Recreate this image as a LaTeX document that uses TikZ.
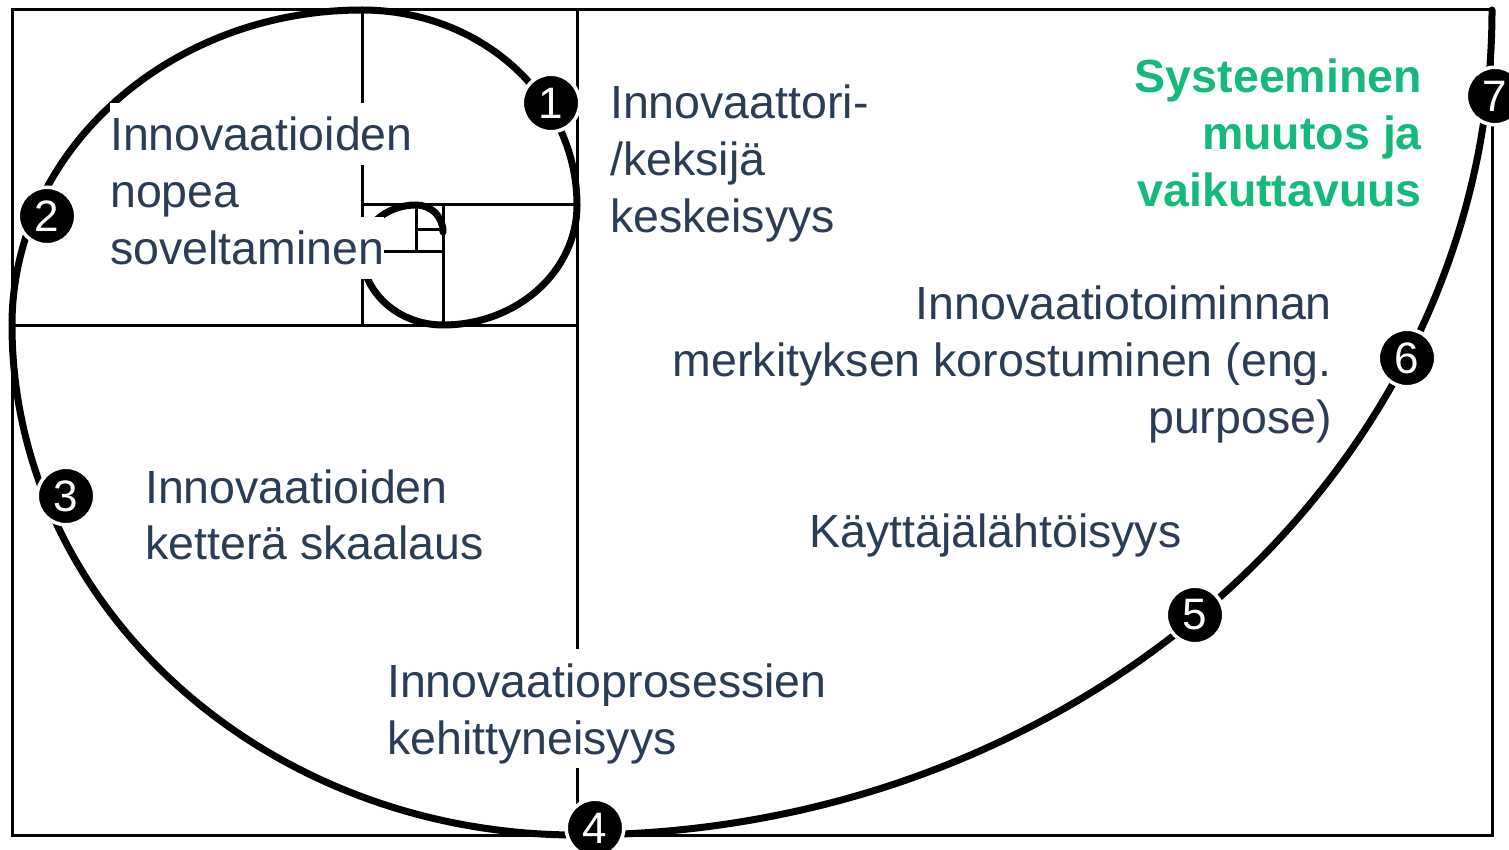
\documentclass[tikz,border=0pt]{standalone}
\usepackage{fontspec}
\setmainfont{Liberation Sans}
\definecolor{navy}{RGB}{42,61,84}
\definecolor{grn}{RGB}{19,186,124}
\begin{document}
\begin{tikzpicture}[x=1pt,y=-1pt,
  gridline/.style={line width=3pt},
  spiral/.style={line width=7pt, line cap=round},
  lbl/.style={font=\fontsize{46.5}{56}\selectfont, text=navy, fill=white, inner sep=0pt, text height=48pt, text depth=14pt},
  glbl/.style={font=\fontsize{46.5}{56}\selectfont\bfseries, text=grn, inner sep=0pt},
  num/.style={circle, fill=black, draw=white, line width=3.5pt, minimum size=57.5pt, inner sep=0pt, text=white, font=\fontsize{44}{44}\selectfont}]
\useasboundingbox (0,0) rectangle (1509,850);
% frame and golden rectangles
\draw[gridline] (12,10) rectangle (1492,835);
\draw[gridline] (577,10) -- (577,835);
\draw[gridline] (12,325) -- (577,325);
\draw[gridline] (362,10) -- (362,325);
\draw[gridline] (362,205) -- (577,205);
\draw[gridline] (443,205) -- (443,325);
\draw[gridline] (362,252) -- (443,252);
\draw[gridline] (416,205) -- (416,252);
\draw[gridline] (416,230) -- (443,230);
% spiral
\draw[spiral] (443,232) .. controls (443,216.2) and (430.9,205) .. (416,205)
 .. controls (386.2,205) and (362,226) .. (362,252)
 .. controls (362,292.3) and (398.3,325) .. (443,325)
 .. controls (517,325) and (577,271.3) .. (577,205)
 .. controls (577,97.3) and (480.7,10) .. (362,10)
 .. controls (168.7,10) and (12,151) .. (12,325)
 .. controls (12,606.7) and (265,835) .. (577,835)
 .. controls (1082.4,835) and (1492,465.6) .. (1492,10);
% labels
\node[lbl, anchor=base west] (t2a) at (110,151) {Innovaatioiden};
\node[lbl, anchor=base west] (t2b) at (110,208) {nopea};
\node[lbl, anchor=base west] (t2c) at (110,265) {soveltaminen};
\node[lbl, anchor=base west] (t1a) at (610,119) {Innovaattori-};
\node[lbl, anchor=base west] (t1b) at (610,176) {/keksijä};
\node[lbl, anchor=base west] (t1c) at (610,233) {keskeisyys};
\node[glbl, anchor=base east] (t7a) at (1422,93) {Systeeminen};
\node[glbl, anchor=base east] (t7b) at (1422,150) {muutos ja};
\node[glbl, anchor=base east] (t7c) at (1422,207) {vaikuttavuus};
\node[lbl, anchor=base east] (t6a) at (1332,319) {Innovaatiotoiminnan};
\node[lbl, anchor=base east] (t6b) at (1332,376) {merkityksen korostuminen (eng.};
\node[lbl, anchor=base east] (t6c) at (1332,433) {purpose)};
\node[lbl, anchor=base west] (t5a) at (809,547) {Käyttäjälähtöisyys};
\node[lbl, anchor=base west] (t3a) at (145,503) {Innovaatioiden};
\node[lbl, anchor=base west] (t3b) at (145,559) {ketterä skaalaus};
\node[lbl, anchor=base west] (t4a) at (387,697) {Innovaatioprosessien};
\node[lbl, anchor=base west] (t4b) at (387,754) {kehittyneisyys};
% numbered markers
\node[num] (n1) at (551,103) {1};
\node[num] (n2) at (47,216) {2};
\node[num] (n3) at (66,496) {3};
\node[num] (n4) at (595,828) {4};
\node[num] (n5) at (1195,615) {5};
\node[num] (n6) at (1407,358) {6};
\node[num] (n7) at (1495,96) {7};
\end{tikzpicture}
\end{document}
